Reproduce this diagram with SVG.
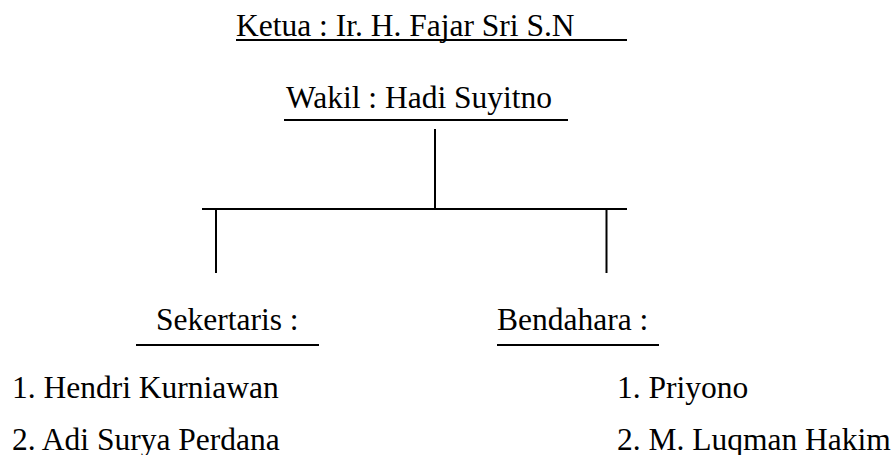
<svg xmlns="http://www.w3.org/2000/svg" width="896" height="455" viewBox="0 0 896 455">
<style>
text{font-family:"Liberation Serif","Times New Roman",serif;font-size:31.5px;fill:#000}
line{stroke:#000;stroke-width:2}
</style>
<rect width="896" height="455" fill="#fff"/>
<g id="ketua">
<text x="236" y="36">Ketua : Ir. H. Fajar Sri S.N</text>
<line x1="236" y1="40" x2="627" y2="40"/>
</g>
<g id="wakil">
<text x="286" y="108">Wakil : Hadi Suyitno</text>
<line x1="284" y1="120" x2="568" y2="120"/>
</g>
<g id="sekertaris">
<text x="156" y="330">Sekertaris :</text>
<line x1="136" y1="345" x2="319" y2="345"/>
<text x="12" y="398">1. Hendri Kurniawan</text>
<text x="12" y="450">2. Adi Surya Perdana</text>
</g>
<g id="bendahara">
<text x="497" y="330">Bendahara :</text>
<line x1="497" y1="345" x2="659" y2="345"/>
<text x="617" y="398">1. Priyono</text>
<text x="617" y="450">2. M. Luqman Hakim</text>
</g>
<g id="connectors">
<line x1="435" y1="129" x2="435" y2="209"/>
<line x1="202" y1="209" x2="627" y2="209"/>
<line x1="216" y1="209" x2="216" y2="273"/>
<line x1="606.5" y1="209" x2="606.5" y2="273"/>
</g>
</svg>
